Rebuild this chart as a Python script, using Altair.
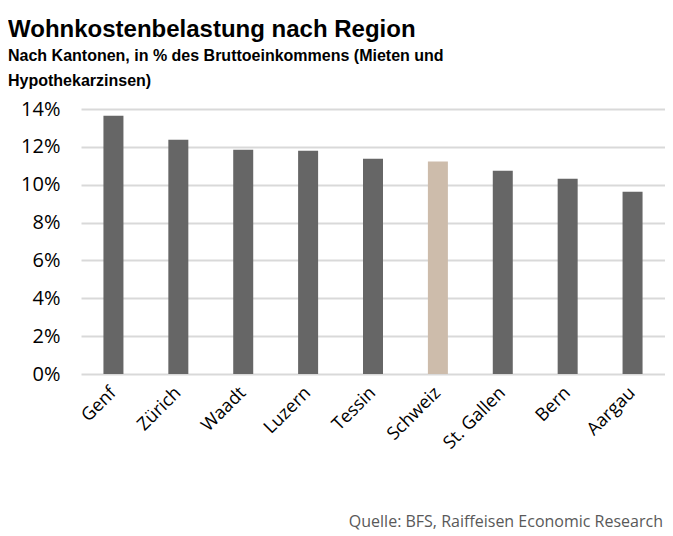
import altair as alt
import pandas as pd

regions = ["Genf", "Zürich", "Waadt", "Luzern", "Tessin", "Schweiz", "St. Gallen", "Bern", "Aargau"]
values = [13.64, 12.38, 11.85, 11.8, 11.37, 11.22, 10.74, 10.32, 9.63]
highlight = ["Kanton", "Kanton", "Kanton", "Kanton", "Kanton", "Schweiz", "Kanton", "Kanton", "Kanton"]
y_ticks = [0, 2, 4, 6, 8, 10, 12, 14]

title_text = "Wohnkostenbelastung nach Region"
subtitle_lines = ["Nach Kantonen, in % des Bruttoeinkommens (Mieten und", "Hypothekarzinsen)"]
source_text = "Quelle: BFS, Raiffeisen Economic Research"

df = pd.DataFrame({"Region": regions, "Wert": [v / 100 for v in values], "Gruppe": highlight})

narrow = "Liberation Sans, Arial, sans-serif"
body = "Open Sans, sans-serif"

bars = alt.Chart(df).mark_bar(size=20).encode(
    x=alt.X("Region:N", sort=regions, title=None,
            scale=alt.Scale(paddingInner=0.0, paddingOuter=0.0),
            axis=alt.Axis(labelAngle=-45, labelAlign="right", labelBaseline="middle",
                          labelFont=body, labelFontSize=18, labelColor="#000000",
                          ticks=False, domain=False, labelPadding=16, grid=False)),
    y=alt.Y("Wert:Q", title=None,
            scale=alt.Scale(domain=[0, 0.14]),
            axis=alt.Axis(values=[t / 100 for t in y_ticks], format=".0%",
                          labelFont=body, labelFontSize=20, labelColor="#000000",
                          ticks=False, domain=False, labelPadding=21,
                          grid=True, gridColor="#d9d9d9", gridWidth=2)),
    color=alt.Color("Gruppe:N", scale=alt.Scale(domain=["Kanton", "Schweiz"], range=["#666666", "#cdbcab"]), legend=None),
)

src = alt.Chart(pd.DataFrame({"t": [source_text]})).mark_text(
    align="right", baseline="middle", font=body, fontSize=16, color="#595959"
).encode(text="t:N", x=alt.value(582), y=alt.value(413))

chart = alt.layer(bars, src).properties(
    width=584, height=265,
    autosize=alt.AutoSizeParams(type="none"),
    padding={"left": 73, "top": 101, "right": 0, "bottom": 160},
    title=alt.TitleParams(
        text=title_text, subtitle=subtitle_lines, anchor="start", frame="group",
        dx=-73, font=narrow, fontSize=24, fontWeight="bold", color="#000000",
        subtitleFont=narrow, subtitleFontSize=16, subtitleFontWeight="bold", subtitleColor="#000000",
        subtitleLineHeight=25, subtitlePadding=6, offset=10,
    ),
).configure_view(stroke=None)

chart.save("out.html", embed_options={"renderer": "svg", "actions": False})
